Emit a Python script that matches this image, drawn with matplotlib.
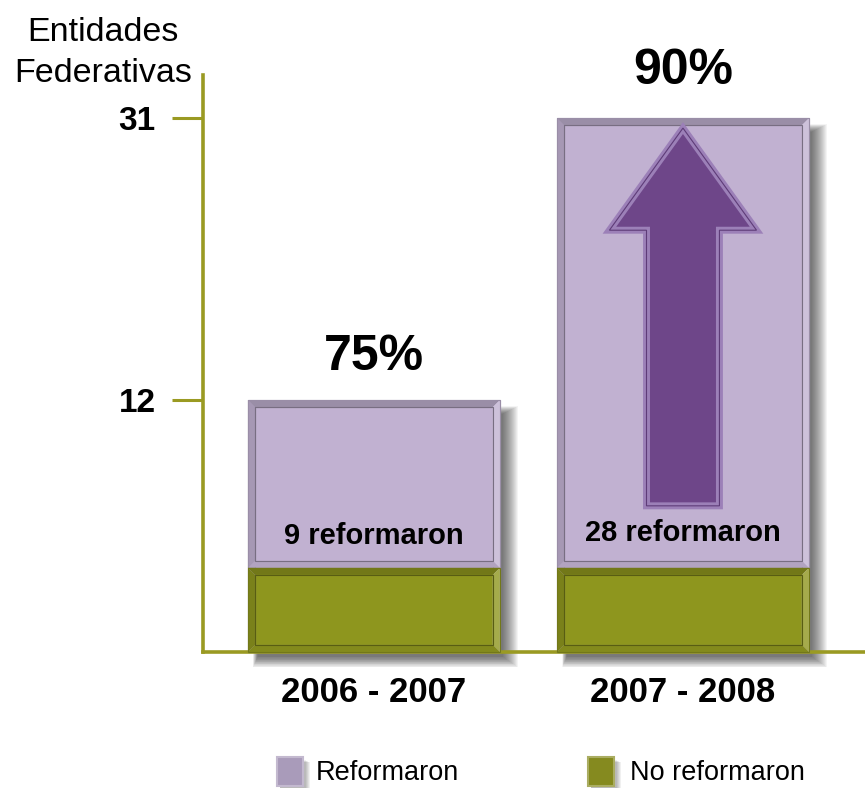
import numpy as np
import matplotlib
matplotlib.use("Agg")
import matplotlib.pyplot as plt
from matplotlib.patches import Polygon, Rectangle
from matplotlib import transforms
from matplotlib.colors import to_rgb

plt.rcParams['font.family'] = ['Liberation Sans', 'DejaVu Sans']

# ---- data ----
periods = ["2006 - 2007", "2007 - 2008"]
reformaron = [9, 28]
no_reformaron = [3, 3]
pct_labels = ["75%", "90%"]
inner_labels = ["9 reformaron", "28 reformaron"]
y_ticks = [12, 31]
y_title = "Entidades\nFederativas"
legend_labels = ["Reformaron", "No reformaron"]

LAV = "#C1B1D1"
GRN = "#8E961E"
AXC = "#9A9A22"
ARROW = "#6E4689"

P = 0.791
def fwd(y):
    y = np.asarray(y, dtype=float)
    return np.sign(y) * np.abs(y) ** P
def inv(y):
    y = np.asarray(y, dtype=float)
    return np.sign(y) * np.abs(y) ** (1 / P)

fig = plt.figure(figsize=(8.65, 7.88), dpi=100)
ax = fig.add_axes([203 / 865, 136 / 788, 662 / 865, 577 / 788])
ax.set_yscale('function', functions=(fwd, inv))
ax.set_ylim(0, 34.2)
ax.set_xlim(-0.553, 1.589)

x = np.arange(len(periods))
W = 0.815
totals = [a + b for a, b in zip(reformaron, no_reformaron)]

b_green = ax.bar(x, no_reformaron, width=W, color=GRN, zorder=3, linewidth=0)
b_lav = ax.bar(x, reformaron, width=W, bottom=no_reformaron, color=LAV, zorder=3, linewidth=0)

# axes styling
for s in ['top', 'right']:
    ax.spines[s].set_visible(False)
for s in ['left', 'bottom']:
    ax.spines[s].set_color(AXC)
    ax.spines[s].set_linewidth(2.6)
    ax.spines[s].set_zorder(2)
ax.set_yticks(y_ticks)
ax.set_yticklabels([str(t) for t in y_ticks], fontsize=24, fontweight='bold')
ax.yaxis.set_minor_locator(matplotlib.ticker.NullLocator())
ax.tick_params(axis='y', length=22, width=2.2, color=AXC, pad=12)
ax.set_xticks(x)
ax.set_xticklabels(periods, fontsize=25, fontweight='bold')
ax.tick_params(axis='x', length=0, pad=17)

fig.text(103 / 865, 1 - 53 / 788, y_title, fontsize=24.5, ha='center', va='center',
         linespacing=1.38)

def shade(c, f):
    c = np.array(to_rgb(c))
    if f < 1:
        return tuple(c * f)
    return tuple(c + (1 - c) * (f - 1))

to_ax = ax.transAxes.inverted()

def poly(pts, **kw):
    ax.add_patch(Polygon(to_ax.transform(pts), closed=True, transform=ax.transAxes,
                         clip_on=False, **kw))

def bevel_rect(x0, y0, x1, y1, color, b=7, shadow=True):
    # display coords (pixels)
    if shadow:
        n = 16
        for i in range(n):
            d = n - i
            poly([(x0 + 10 - d * 0.3, y0 - 4 - d * 0.7), (x1 + 2 + d, y0 - 4 - d * 0.7),
                  (x1 + 2 + d, y1 - 14 + d * 0.5), (x0 + 10 - d * 0.3, y1 - 14 + d * 0.5)],
                 facecolor='black', alpha=0.045, linewidth=0, zorder=1)
    parts = [
        ([(x0, y1), (x1, y1), (x1 - b, y1 - b), (x0 + b, y1 - b)], 0.8),   # top
        ([(x0, y0), (x0, y1), (x0 + b, y1 - b), (x0 + b, y0 + b)], 0.86),  # left
        ([(x1, y0), (x1, y1), (x1 - b, y1 - b), (x1 - b, y0 + b)], 1.2),   # right
        ([(x0, y0), (x1, y0), (x1 - b, y0 + b), (x0 + b, y0 + b)], 0.92),  # bottom
    ]
    for pts, f in parts:
        poly(pts, facecolor=shade(color, f), linewidth=0, zorder=4)
    poly([(x0 + b, y0 + b), (x1 - b, y0 + b), (x1 - b, y1 - b), (x0 + b, y1 - b)],
         facecolor='none', edgecolor=shade(color, 0.62), linewidth=0.8, zorder=4)
    poly([(x0, y0), (x1, y0), (x1, y1), (x0, y1)],
         facecolor='none', edgecolor=shade(color, 0.8), linewidth=0.8, zorder=4)

green_tops = []
for i in range(len(periods)):
    xl, xr = x[i] - W / 2, x[i] + W / 2
    g0 = ax.transData.transform((xl, 0))
    g1 = ax.transData.transform((xr, no_reformaron[i]))
    t1 = ax.transData.transform((xr, totals[i]))
    green_tops.append(g1[1])
    bevel_rect(g0[0], g0[1], t1[0], t1[1], LAV, shadow=True)
    bevel_rect(g0[0], g1[1], t1[0], t1[1], LAV, shadow=False)
    bevel_rect(g0[0], g0[1], g1[0], g1[1], GRN, shadow=False)

# big arrow in second bar
bt = transforms.blended_transform_factory(ax.transData, ax.transAxes)
xc = x[1]
hw, sw = 0.238, 0.118
tip, hb = 0.908, 0.731
sb = to_ax.transform((0, green_tops[1] + 62))[1]
arrow_pts = [(xc, tip), (xc + hw, hb), (xc + sw, hb), (xc + sw, sb),
             (xc - sw, sb), (xc - sw, hb), (xc - hw, hb)]
ax.add_patch(Polygon(arrow_pts, closed=True, transform=bt, facecolor=ARROW,
                     edgecolor="#9C80B8", linewidth=5, joinstyle='miter', zorder=5))
ax.add_patch(Polygon(arrow_pts, closed=True, transform=bt, facecolor='none',
                     edgecolor="#5E3C78", linewidth=0.8, joinstyle='miter', zorder=5))

# labels
pct_off = [31, 34]
inner_off = [23, 25]
for i in range(len(periods)):
    ax.annotate(pct_labels[i], xy=(x[i], totals[i]), xytext=(0, pct_off[i]),
                textcoords='offset points', ha='center', va='center',
                fontsize=36, fontweight='bold', zorder=6, annotation_clip=False)
    ax.annotate(inner_labels[i], xy=(x[i], no_reformaron[i]), xytext=(0, inner_off[i]),
                textcoords='offset points', ha='center', va='center',
                fontsize=21, fontweight='bold', zorder=6, annotation_clip=False)

# legend
leg_cols = ["#A99BBA", "#858A1F"]
leg_sq_x = [277, 588]
leg_tx_x = [316, 630]
for c, sx, tx, lab in zip(leg_cols, leg_sq_x, leg_tx_x, legend_labels):
    for k in range(5):
        fig.add_artist(Rectangle(((sx + 3) / 865, (-1 - k * 0.5) / 788), (26 + k) / 865, 29 / 788,
                                 transform=fig.transFigure, facecolor='black', alpha=0.06,
                                 linewidth=0))
    fig.add_artist(Rectangle((sx / 865, 2 / 788), 26 / 865, 29 / 788, transform=fig.transFigure,
                             facecolor=c, edgecolor=shade(c, 1.3), linewidth=1.5))
    fig.text(tx / 865, 1 - 773 / 788, lab, fontsize=19.5, ha='left', va='center')

fig.savefig("out.png", dpi=100)
